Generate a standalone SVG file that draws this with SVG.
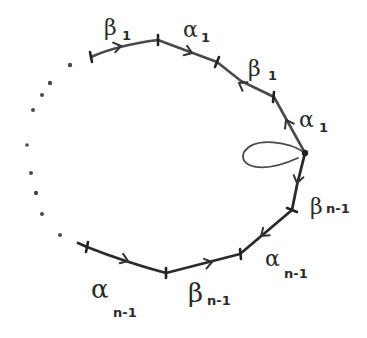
<svg xmlns="http://www.w3.org/2000/svg" width="367" height="338" viewBox="0 0 367 338">
<defs>
<style>
.edge{fill:none;stroke:#4a4a4a;stroke-width:2.6;stroke-linecap:round;stroke-linejoin:round}
.dark{stroke:#2a2a2a;stroke-width:2.8}
.tick{stroke:#222;stroke-width:2.6;stroke-linecap:round}
.ah{fill:none;stroke:#333;stroke-width:2;stroke-linecap:round;stroke-linejoin:round}
.dot{fill:#4a4a4a}
.g{font-family:"DejaVu Serif","Liberation Serif",serif;font-size:22px;fill:#2a2a2a}
.s{font-family:"DejaVu Sans","Liberation Sans",sans-serif;font-size:13px;fill:#2a2a2a;font-weight:bold}
</style>
<path id="ah" d="M-7,-5 L0,0 L-7,5"/>
</defs>
<g id="connectors">
<path class="edge" d="M91,57 Q118,45 158,40 L217,62 L241,81 L274,97 L305,153"/>
<path class="edge dark" d="M305,153 L297,185 L292,210 L240,254 L166,273 Q125,262 87,247 L78,243"/>
<path class="edge" style="stroke-width:1.8" d="M305,153 C290,142 255,136 244,152 C238,166 260,175 298,158"/>
<g class="ah">
<use href="#ah" transform="translate(121,46) rotate(-12)"/>
<use href="#ah" transform="translate(192,53) rotate(20)"/>
<use href="#ah" transform="translate(239,83) rotate(210)"/>
<use href="#ah" transform="translate(286,120) rotate(241)"/>
<use href="#ah" transform="translate(297,183) rotate(103)"/>
<use href="#ah" transform="translate(261,236) rotate(140)"/>
<use href="#ah" transform="translate(212,262) rotate(-14)"/>
<use href="#ah" transform="translate(128,261) rotate(20)"/>
</g>
<g class="tick">
<line x1="90" y1="52" x2="92" y2="62"/>
<line x1="158" y1="35" x2="158" y2="45"/>
<line x1="219" y1="57" x2="215" y2="67"/>
<line x1="274" y1="92" x2="273" y2="102"/>
<line x1="287" y1="208" x2="297" y2="212"/>
<line x1="240" y1="249" x2="241" y2="259"/>
<line x1="166" y1="268" x2="166" y2="278"/>
<line x1="88" y1="242" x2="86" y2="252"/>
</g>
<circle cx="305" cy="153" r="3.2" fill="#222"/>
</g>
<g id="dots">
<circle class="dot" cx="70" cy="65" r="2.2"/>
<circle class="dot" cx="50" cy="83" r="2.2"/>
<circle class="dot" cx="42" cy="95" r="2"/>
<circle class="dot" cx="33" cy="110" r="2"/>
<circle class="dot" cx="27" cy="145" r="1.8"/>
<circle class="dot" cx="31" cy="173" r="2"/>
<circle class="dot" cx="36" cy="193" r="2.2"/>
<circle class="dot" cx="42" cy="214" r="2"/>
<circle class="dot" cx="60" cy="235" r="2"/>
</g>
<g id="labels">
<text class="g" x="104" y="35">β</text><text class="s" x="122" y="40">1</text>
<text class="g" x="183" y="37">α</text><text class="s" x="201" y="42">1</text>
<text class="g" x="248" y="76">β</text><text class="s" x="268" y="80">1</text>
<text class="g" x="299" y="127">α</text><text class="s" x="319" y="132">1</text>
<text class="g" x="310" y="214">β</text><text class="s" x="326" y="213">n-1</text>
<text class="g" x="265" y="266">α</text><text class="s" x="284" y="278">n-1</text>
<text class="g" x="188" y="302" style="font-size:26px">β</text><text class="s" x="207" y="305">n-1</text>
<text class="g" x="91" y="298" style="font-size:26px">α</text><text class="s" x="113" y="317">n-1</text>
</g>
</svg>
